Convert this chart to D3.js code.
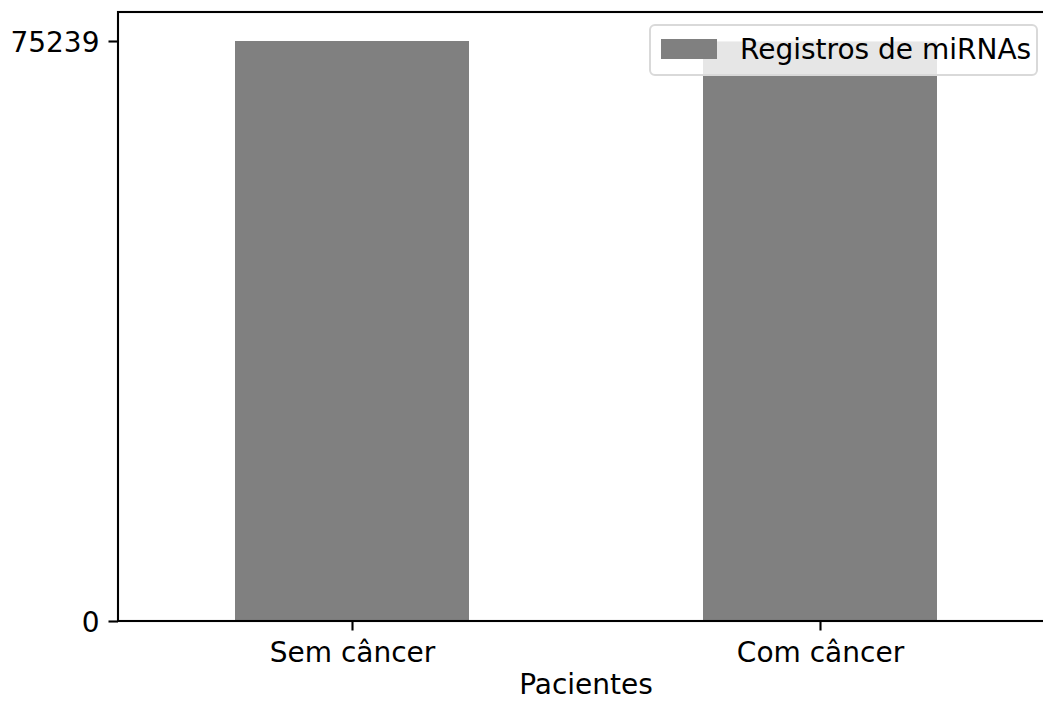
<!DOCTYPE html>
<html>
<head>
<meta charset="utf-8">
<script src="https://cdn.jsdelivr.net/npm/d3@7"></script>
<style>
  html, body { margin: 0; padding: 0; background: #fff; }
  svg { display: block; font-family: "DejaVu Sans", sans-serif; }
</style>
</head>
<body>
<svg id="chart" width="1043" height="702"></svg>
<script>
// Record counts per patient group
const categories = ["Sem câncer", "Com câncer"];
const values = [75239, 75180];
const seriesName = "Registros de miRNAs";
const yTickValues = [0, 75239];
const xLabel = "Pacientes";

const fontPx = 28;
const svg = d3.select("#chart");
const margin = { left: 118, top: 12, bottom: 621 };
const plotRight = 1054; // axes extend slightly past the visible frame
const yTop = 12;

const x = d3.scaleLinear().domain([-0.5, categories.length - 0.5]).range([margin.left, plotRight]);
const yMax = d3.max(values) * 1.05;
const y = d3.scaleLinear().domain([0, yMax]).range([margin.bottom, yTop]);

const barWidth = 0.5;
const barColor = "#808080";

// bars
svg.append("g").selectAll("rect")
  .data(values)
  .join("rect")
  .attr("x", (d, i) => x(i - barWidth / 2))
  .attr("width", (d, i) => x(i + barWidth / 2) - x(i - barWidth / 2))
  .attr("y", d => y(d))
  .attr("height", d => y(0) - y(d))
  .attr("fill", barColor);

// axes
const yAxis = d3.axisLeft(y).tickValues(yTickValues).tickFormat(d3.format("d")).tickSize(9.5).tickPadding(9);
const gy = svg.append("g").attr("transform", `translate(${margin.left},0)`).call(yAxis);
const xAxis = d3.axisBottom(x).tickValues(d3.range(categories.length)).tickFormat(i => categories[i]).tickSize(9.5).tickPadding(12);
const gx = svg.append("g").attr("transform", `translate(0,${margin.bottom})`).call(xAxis);

[gx, gy].forEach(g => {
  g.attr("font-size", null).attr("font-family", null);
  g.select(".domain").remove();
  g.selectAll(".tick line").attr("stroke", "#000").attr("stroke-width", 2.1);
  g.selectAll(".tick text").attr("fill", "#000").style("font-size", fontPx + "px").style("font-family", "DejaVu Sans");
});
gy.selectAll(".tick text").attr("dy", "0.36em");

// frame
svg.append("rect")
  .attr("x", margin.left).attr("y", yTop)
  .attr("width", plotRight - margin.left).attr("height", margin.bottom - yTop)
  .attr("fill", "none").attr("stroke", "#000").attr("stroke-width", 2.1);

// x-axis title
svg.append("text")
  .attr("x", (margin.left + plotRight) / 2).attr("y", 694)
  .attr("text-anchor", "middle")
  .style("font-size", fontPx + "px")
  .text(xLabel);

// legend
const lg = svg.append("g");
lg.append("rect")
  .attr("x", 650).attr("y", 25).attr("width", 387).attr("height", 50)
  .attr("rx", 5).attr("ry", 5)
  .attr("fill", "#fff").attr("fill-opacity", 0.8)
  .attr("stroke", "#d9d9d9").attr("stroke-width", 2);
lg.append("rect")
  .attr("x", 661).attr("y", 39).attr("width", 56).attr("height", 20)
  .attr("fill", barColor);
lg.append("text")
  .attr("x", 740).attr("y", 59)
  .style("font-size", fontPx + "px")
  .text(seriesName);
</script>
</body>
</html>
